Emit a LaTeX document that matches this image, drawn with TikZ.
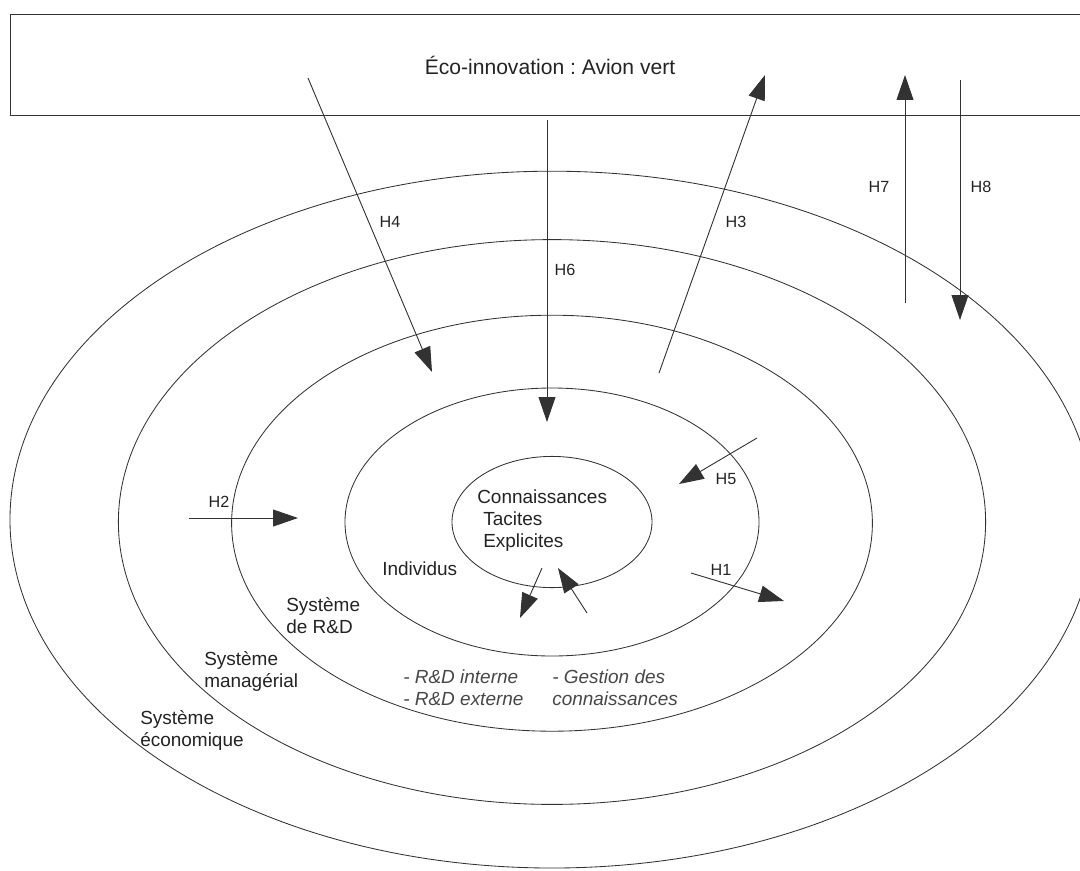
\documentclass[tikz,border=0pt]{standalone}
\usepackage{fontspec}
\setmainfont{Liberation Sans}
\frenchspacing
\definecolor{linegray}{RGB}{50,50,50}
\definecolor{textgray}{RGB}{35,35,35}
\usepackage{tikz}
\usetikzlibrary{shapes,arrows.meta,positioning}

\begin{document}
\begin{tikzpicture}[
                ring/.style={draw=linegray,line width=0.6pt},
                hyp/.style={draw=linegray,line width=0.65pt,-{Triangle[length=0.62cm,width=0.42cm]}},
                hlab/.style={font=\fontsize{11.5}{13}\selectfont,text=textgray},
                zone/.style={font=\fontsize{13.5}{15.6}\selectfont,text=textgray,align=left,anchor=base west,inner sep=0pt},
                listtxt/.style={zone,font=\fontsize{13.5}{15.6}\selectfont\itshape,text=black!72}
            ]
                \useasboundingbox (-13.8,-8.7) rectangle (13.2,13.05);
                \clip (-13.8,-8.7) rectangle (13.2,13.05);

                % Eco-innovation box
                \node[draw=linegray,line width=0.6pt,minimum width=27cm,minimum height=2.525cm,
                      font=\fontsize{15}{18}\selectfont,text=textgray] (avion) at (-0.05,11.425) {Éco-innovation : Avion vert};

                % Nested systems
                \draw[ring] (0,0.06) ellipse (13.55 and 8.71);   % economique
                \draw[ring] (0,0) ellipse (10.84 and 7.06);      % managerial
                \draw[ring] (0,-0.03) ellipse (8.01 and 5.2);    % R&D
                \draw[ring] (0,0) ellipse (5.175 and 3.35);      % individus
                \draw[ring] (0,0) ellipse (2.5 and 1.64);        % connaissances

                % Arrow ends
                \coordinate (h1a) at (3.475,-1.275);  \coordinate (h1b) at (5.8,-1.975);
                \coordinate (h2a) at (-9.075,0.1);    \coordinate (h2b) at (-6.35,0.1);
                \coordinate (h3a) at (2.675,3.725);   \coordinate (h3b) at (5.325,11.175);
                \coordinate (h4a) at (-6.1,11.1);     \coordinate (h4b) at (-3.0,3.75);
                \coordinate (h5a) at (5.125,2.1);     \coordinate (h5b) at (3.175,0.95);
                \coordinate (h6a) at (-0.125,10.05);  \coordinate (h6b) at (-0.125,2.5);
                \coordinate (h7a) at (8.825,5.475);   \coordinate (h7b) at (8.825,11.175);
                \coordinate (h8a) at (10.2,11.05);    \coordinate (h8b) at (10.2,5.05);
                \coordinate (outa) at (-0.25,-1.15);  \coordinate (outb) at (-0.8,-2.4);
                \coordinate (ina) at (0.875,-2.275);  \coordinate (inb) at (0.15,-1.15);

                % Hypotheses
                \draw[hyp] (h1a) -- (h1b);
                \draw[hyp] (h2a) -- (h2b);
                \draw[hyp] (h3a) -- (h3b);
                \draw[hyp] (h4a) -- (h4b);
                \draw[hyp] (h5a) -- (h5b);
                \draw[hyp] (h6a) -- (h6b);
                \draw[hyp] (h7a) -- (h7b);
                \draw[hyp] (h8a) -- (h8b);
                \draw[hyp] (outa) -- (outb);
                \draw[hyp] (ina) -- (inb);

                \node[hlab] (lh1) at (4.225,-1.2) {H1};
                \node[hlab] (lh2) at (-8.325,0.5) {H2};
                \node[hlab] (lh3) at (4.6,7.5) {H3};
                \node[hlab] (lh4) at (-4.05,7.5) {H4};
                \node[hlab] (lh5) at (4.35,1.075) {H5};
                \node[hlab] (lh6) at (0.325,6.3) {H6};
                \node[hlab] (lh7) at (8.175,8.375) {H7};
                \node[hlab] (lh8) at (10.725,8.375) {H8};

                % Labels (base = last line)
                \node[zone] (conn) at (-1.875,0.475) {Connaissances};
                \node[zone] (tac) at (-1.725,-0.075) {Tacites};
                \node[zone] (expl) at (-1.725,-0.625) {Explicites};
                \node[zone] (indiv) at (-4.25,-1.325) {Individus};
                \node[zone] (rd) at (-6.65,-2.775) {Système\\de R\&D};
                \node[zone] (mgt) at (-8.7,-4.125) {Système\\managérial};
                \node[zone] (eco) at (-10.3,-5.6) {Système\\économique};
                \node[listtxt] (rdlist) at (-3.725,-4.575) {- R\&D interne\\- R\&D externe};
                \node[listtxt] (gest) at (0,-4.575) {- Gestion des\\connaissances};
            \end{tikzpicture}
\end{document}
